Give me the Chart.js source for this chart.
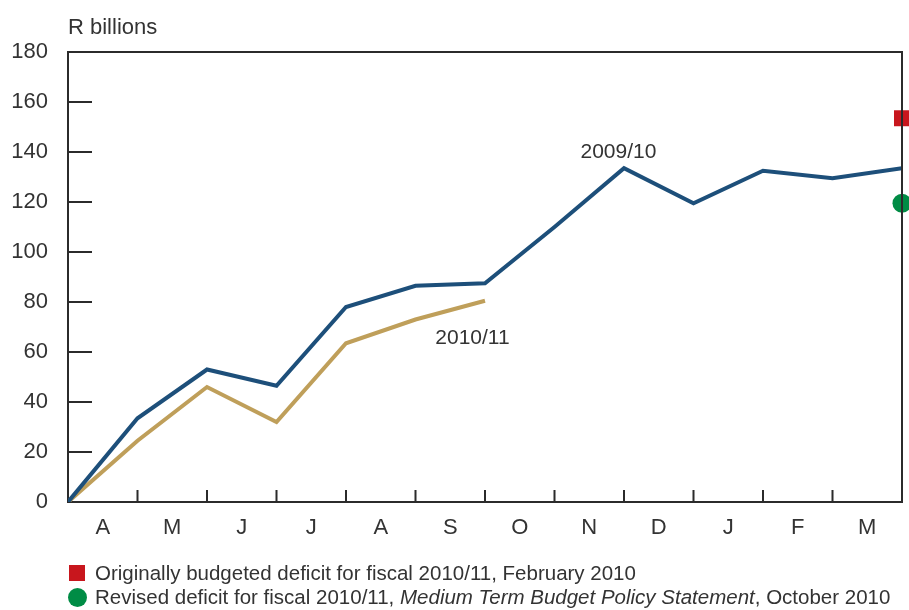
<!DOCTYPE html>
<html>
<head>
<meta charset="utf-8">
<script src="https://cdn.jsdelivr.net/npm/chart.js@4.4.1/dist/chart.umd.min.js"></script>
<style>
  html, body { margin: 0; padding: 0; background: #fff; }
  #wrap { position: relative; width: 909px; height: 610px; overflow: hidden; }
  #legend { position: absolute; left: 69px; top: 561px; font-family: "Liberation Sans", Arial, sans-serif; font-size: 20.5px; color: #333; }
  #legend div { height: 24px; line-height: 24px; white-space: nowrap; display: flex; align-items: center; }
  .sq { display: inline-block; width: 16px; height: 16px; background: #c8161d; margin-right: 10px; }
  .dot { display: inline-block; width: 19px; height: 19px; border-radius: 50%; background: #008c45; margin-right: 8px; margin-left: -1px; }
</style>
</head>
<body>
<div id="wrap">
  <canvas id="chart"></canvas>
  <div id="legend">
    <div><span class="sq"></span>Originally budgeted deficit for fiscal 2010/11, February 2010</div>
    <div><span class="dot"></span>Revised deficit for fiscal 2010/11,&nbsp;<i>Medium Term Budget Policy Statement</i>, October 2010</div>
  </div>
</div>
<script>
// ── Cumulative budget deficit, R billions ──

const months = ['A', 'M', 'J', 'J', 'A', 'S', 'O', 'N', 'D', 'J', 'F', 'M'];
const yTicks = [0, 20, 40, 60, 80, 100, 120, 140, 160, 180];
const deficit0910 = [0, 33.5, 53, 46.5, 78, 86.5, 87.5, 110, 133.5, 119.5, 132.5, 129.5, 133.5];
const deficit1011 = [0, 24.5, 46, 32, 63.5, 73, 80.5];
const budgetedDeficit = [{ x: 12, y: 153.5 }];
const revisedDeficit = [{ x: 12, y: 119.5 }];
const seriesLabels = [
  { text: '2009/10', x: 7.92, y: 140 },
  { text: '2010/11', x: 5.82, y: 65.5 }
];

const FONT = '"Liberation Sans", Arial, sans-serif';
const INK = '#333333';
const AXIS = '#2b2b2b';

const toPoints = arr => arr.map((v, i) => ({ x: i, y: v }));

// month labels sit between the month-end ticks; empty labels at both ends
const monthLabel = v => Number.isInteger(v) ? '' : months[Math.floor(v)];

// inward tick marks, top/right frame, unit caption and series labels
const framePlugin = {
  id: 'frame',
  afterDatasetsDraw(chart) {
    const { ctx, chartArea: a, scales: { x, y } } = chart;
    ctx.save();
    ctx.strokeStyle = AXIS;
    ctx.lineWidth = 2;
    ctx.beginPath();
    for (let i = 1; i < months.length; i++) {
      const px = x.getPixelForValue(i);
      ctx.moveTo(px, a.bottom);
      ctx.lineTo(px, a.bottom - 12);
    }
    yTicks.slice(1, -1).forEach(v => {
      const py = y.getPixelForValue(v);
      ctx.moveTo(a.left, py);
      ctx.lineTo(a.left + 24, py);
    });
    ctx.moveTo(a.left, a.top);
    ctx.lineTo(a.right, a.top);
    ctx.lineTo(a.right, a.bottom);
    ctx.stroke();

    ctx.fillStyle = INK;
    ctx.font = '22px ' + FONT;
    ctx.textAlign = 'left';
    ctx.textBaseline = 'middle';
    ctx.fillText('R billions', a.left, 28);

    ctx.font = '21px ' + FONT;
    ctx.textAlign = 'center';
    seriesLabels.forEach(l => {
      ctx.fillText(l.text, x.getPixelForValue(l.x), y.getPixelForValue(l.y));
    });
    ctx.restore();
  }
};

new Chart(document.getElementById('chart'), {
  type: 'line',
  data: {
    datasets: [
      {
        label: 'Originally budgeted deficit',
        data: budgetedDeficit,
        showLine: false,
        pointStyle: 'rect',
        pointRadius: 11.3,
        pointBackgroundColor: '#c8161d',
        pointBorderWidth: 0,
        clip: false
      },
      {
        label: 'Revised deficit',
        data: revisedDeficit,
        showLine: false,
        pointStyle: 'circle',
        pointRadius: 9.5,
        pointBackgroundColor: '#008c45',
        pointBorderWidth: 0,
        clip: false
      },
      {
        label: '2009/10',
        data: toPoints(deficit0910),
        borderColor: '#1d4f7a',
        borderWidth: 4,
        pointRadius: 0,
        tension: 0,
        fill: false
      },
      {
        label: '2010/11',
        data: toPoints(deficit1011),
        borderColor: '#bf9f5a',
        borderWidth: 4,
        pointRadius: 0,
        tension: 0,
        fill: false
      }
    ]
  },
  options: {
    responsive: true,
    maintainAspectRatio: false,
    animation: false,
    layout: {
      autoPadding: false,
      padding: { left: 0, top: 52, right: 7, bottom: 68 }
    },
    plugins: {
      legend: { display: false },
      tooltip: { enabled: false }
    },
    scales: {
      x: {
        type: 'linear',
        min: 0,
        max: months.length,
        afterBuildTicks: scale => {
          const vals = [0, ...months.map((m, i) => i + 0.5), months.length];
          scale.ticks = vals.map(v => ({ value: v }));
        },
        afterFit: scale => { scale.height = 40; },
        ticks: {
          color: INK,
          font: { size: 22, family: FONT },
          padding: 0,
          maxRotation: 0,
          autoSkip: false,
          callback: v => monthLabel(v)
        },
        grid: {
          display: true,
          drawOnChartArea: false,
          drawTicks: true,
          tickLength: 13,
          tickColor: 'rgba(0,0,0,0)'
        },
        border: { display: true, color: AXIS, width: 2 }
      },
      y: {
        min: 0,
        max: 180,
        afterBuildTicks: scale => {
          scale.ticks = yTicks.map(v => ({ value: v }));
        },
        afterFit: scale => { scale.width = 68; },
        ticks: {
          color: INK,
          font: { size: 22, family: FONT },
          padding: 20
        },
        grid: { display: false, drawTicks: false },
        border: { display: true, color: AXIS, width: 2 }
      }
    }
  },
  plugins: [framePlugin]
});
</script>
</body>
</html>
